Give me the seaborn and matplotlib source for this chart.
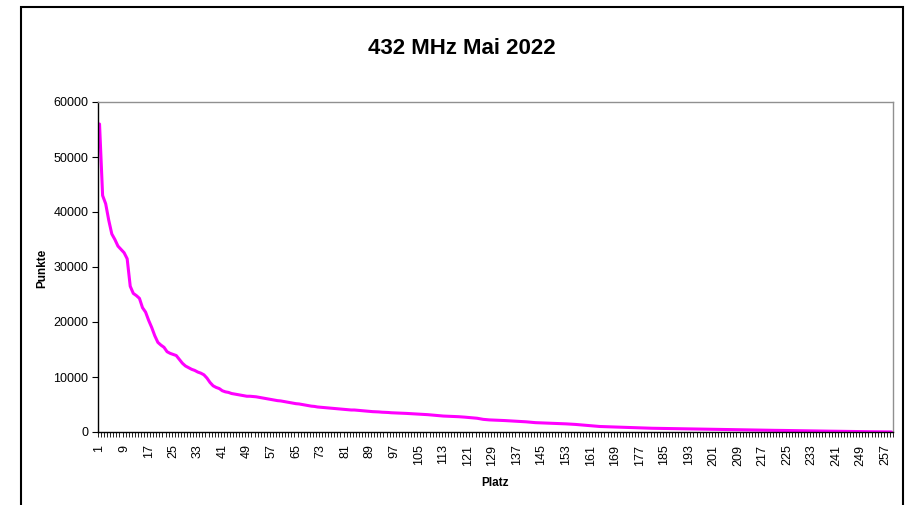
import numpy as np
import pandas as pd
import matplotlib
matplotlib.use("Agg")
import matplotlib.pyplot as plt
import matplotlib.patches as mpatches
from matplotlib.ticker import FixedLocator, NullFormatter
import seaborn as sns

title = "432 MHz Mai 2022"
x_label = "Platz"
y_label = "Punkte"

punkte = [
    56000, 43000, 41500, 38500, 36000, 35000, 33800, 33200, 32600, 31500,
    26500, 25200, 24800, 24300, 22600, 21800, 20300, 19000, 17500, 16300,
    15800, 15400, 14600, 14300, 14100, 13900, 13200, 12500, 12000, 11700,
    11400, 11200, 10900, 10700, 10400, 9800, 9000, 8400, 8100, 7900,
    7500, 7300, 7200, 7000, 6900, 6800, 6700, 6600, 6500, 6500,
    6450, 6400, 6300, 6200, 6100, 6000, 5900, 5800, 5700, 5650,
    5550, 5450, 5350, 5250, 5150, 5100, 5000, 4900, 4800, 4700,
    4650, 4550, 4500, 4450, 4400, 4350, 4300, 4250, 4200, 4150,
    4100, 4050, 4000, 4000, 3950, 3900, 3850, 3800, 3750, 3700,
    3680, 3650, 3600, 3580, 3550, 3500, 3480, 3450, 3420, 3400,
    3380, 3350, 3320, 3300, 3280, 3250, 3200, 3150, 3100, 3050,
    3000, 2950, 2900, 2880, 2850, 2820, 2800, 2780, 2750, 2700,
    2650, 2600, 2550, 2500, 2400, 2300, 2250, 2200, 2180, 2150,
    2120, 2100, 2080, 2050, 2030, 2000, 1980, 1950, 1900, 1850,
    1800, 1750, 1700, 1680, 1650, 1620, 1600, 1580, 1560, 1540,
    1520, 1500, 1480, 1450, 1420, 1380, 1330, 1280, 1230, 1180,
    1120, 1080, 1050, 1000, 980, 950, 920, 900, 880, 860,
    840, 820, 800, 780, 760, 740, 720, 700, 700, 690,
    680, 670, 660, 650, 640, 630, 620, 610, 600, 600,
    590, 580, 570, 560, 550, 540, 530, 520, 510, 500,
    490, 480, 470, 460, 450, 440, 430, 420, 410, 400,
    400, 390, 380, 370, 360, 350, 340, 330, 320, 310,
    300, 300, 290, 280, 270, 260, 250, 250, 240, 230,
    220, 210, 200, 200, 190, 180, 170, 160, 150, 150,
    140, 130, 120, 110, 100, 100, 90, 80, 70, 60,
    60, 50, 50, 40, 30, 30, 20, 20, 10,
]
platz = list(range(1, len(punkte) + 1))
x_tick_labels = [str(v) for v in range(1, len(punkte) + 1, 8)]
y_ticks = [0, 10000, 20000, 30000, 40000, 50000, 60000]

df = pd.DataFrame({"Platz": platz, "Punkte": punkte})

sns.set_theme(style="white")
plt.rcParams["font.family"] = ["Liberation Sans", "DejaVu Sans"]
plt.rcParams["text.color"] = "black"
plt.rcParams["axes.labelcolor"] = "black"
plt.rcParams["xtick.color"] = "black"
plt.rcParams["ytick.color"] = "black"

W, H = 908, 505
fig = plt.figure(figsize=(W / 100, H / 100), dpi=100)
fig.patch.set_facecolor("white")

left, right, top, bottom = 98, 893, 102, 432
ax = fig.add_axes([left / W, 1 - bottom / H, (right - left) / W, (bottom - top) / H])

sns.lineplot(data=df, x="Platz", y="Punkte", ax=ax, color="#FF00FF", linewidth=2.2)

n = len(punkte)
ax.set_xlim(0.5, n + 0.5)
ax.set_ylim(0, 60000)

# x ticks: labels every 8 places, tick marks at every category boundary
ax.xaxis.set_major_locator(FixedLocator([int(s) for s in x_tick_labels]))
ax.set_xticklabels(x_tick_labels, rotation=90, fontsize=9)
ax.xaxis.set_minor_locator(FixedLocator(np.arange(0.5, n + 1, 1.0)))
ax.xaxis.set_minor_formatter(NullFormatter())
ax.tick_params(axis="x", which="major", length=0, pad=9, colors="black")
ax.tick_params(axis="x", which="minor", length=3.5, width=0.6, direction="out", color="black", bottom=True)

ax.set_yticks(y_ticks)
ax.set_yticklabels([str(v) for v in y_ticks], fontsize=9)
ax.tick_params(axis="y", which="major", length=4, width=0.8, direction="out", color="black", left=True, pad=3)

ax.set_xlabel(x_label, fontsize=8.5, fontweight="bold")
ax.set_ylabel(y_label, fontsize=8.5, fontweight="bold")
ax.xaxis.set_label_coords((495 - left) / (right - left), -(483 - bottom) / (bottom - top))
ax.yaxis.set_label_coords((42 - left) / (right - left), (bottom - 268) / (bottom - top))
ax.xaxis.label.set_va("center")
ax.yaxis.label.set_va("center")

for s in ["left", "bottom"]:
    ax.spines[s].set_color("black")
    ax.spines[s].set_linewidth(1.0)
for s in ["top", "right"]:
    ax.spines[s].set_color("#909090")
    ax.spines[s].set_linewidth(1.0)
    ax.spines[s].set_visible(True)
ax.grid(False)

fig.text(462 / W, 1 - 48 / H, title, ha="center", va="center",
         fontsize=16, fontweight="bold", color="black")

# outer chart frame
frame = mpatches.Rectangle((21 / W, -0.05), (903 - 21) / W, 1.05 - 6.5 / H,
                           transform=fig.transFigure, fill=False, edgecolor="black",
                           linewidth=1.5, clip_on=False)
fig.patches.append(frame)

fig.savefig("out.png", dpi=100)
